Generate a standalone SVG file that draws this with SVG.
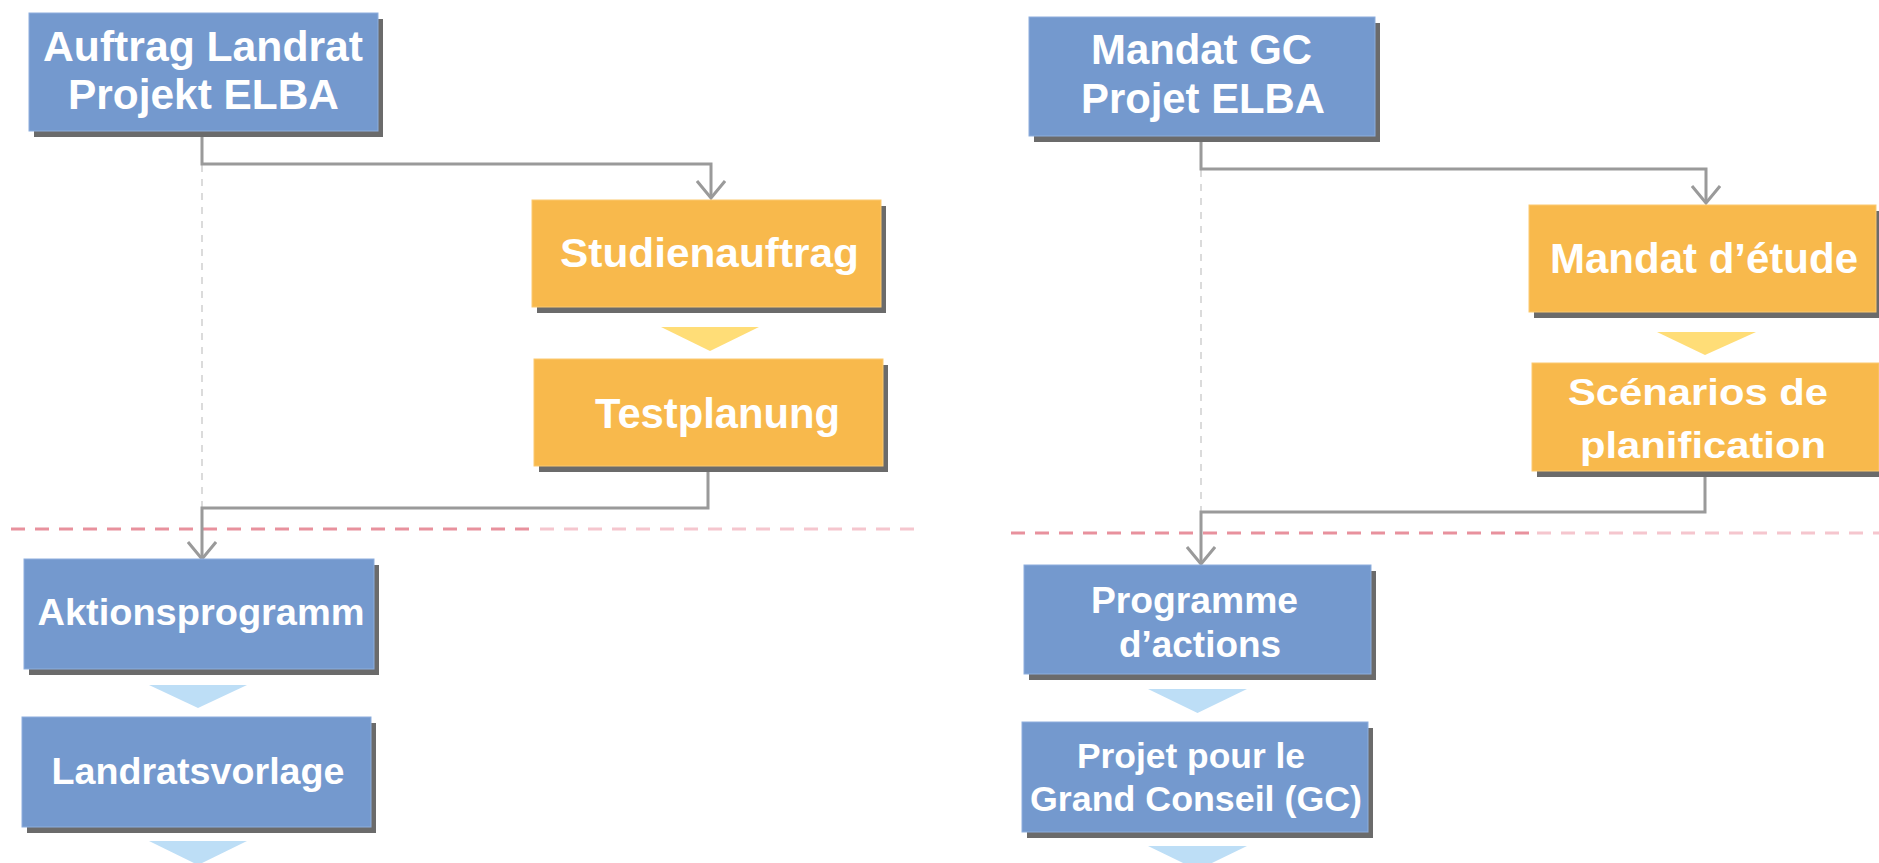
<svg xmlns="http://www.w3.org/2000/svg" width="1879" height="863" viewBox="0 0 1879 863">
<defs>
<style>
.blue{fill:#7499CE;stroke:#8DAEDD;stroke-width:1}
.orange{fill:#F8B94C;stroke:#FBC970;stroke-width:1}
.shadow{fill:#6B6B6B}
.t{font-family:"Liberation Sans",Arial,sans-serif;font-weight:bold;fill:#FFFFFF;text-anchor:middle}
.conn{fill:none;stroke:#9A9A9A;stroke-width:3}
.guide{fill:none;stroke:#CFCFCF;stroke-width:1.5;stroke-dasharray:7 7}
.reddark{fill:none;stroke:#E8919D;stroke-width:3;stroke-dasharray:14 10}
.redlight{fill:none;stroke:#F5C6CE;stroke-width:3;stroke-dasharray:14 10}
.tri-y{fill:#FFDD77}
.tri-b{fill:#BDDEF6}
</style>
<marker id="arr" viewBox="0 0 30 20" refX="15" refY="18" markerWidth="30" markerHeight="20" markerUnits="userSpaceOnUse" orient="0">
<path d="M1,1 L15,18 L29,1" fill="none" stroke="#9A9A9A" stroke-width="3"/>
</marker>
</defs>
<rect width="1879" height="863" fill="#FFFFFF"/>

<g id="guides">
<line class="guide" x1="202" y1="165" x2="202" y2="507"/>
<line class="guide" x1="1201" y1="170" x2="1201" y2="511"/>
<line class="reddark" x1="11" y1="529" x2="536" y2="529"/>
<line class="redlight" x1="540" y1="529" x2="919" y2="529"/>
<line class="reddark" x1="1011" y1="533" x2="1533" y2="533"/>
<line class="redlight" x1="1537" y1="533" x2="1879" y2="533"/>
</g>

<g id="connectors">
<path class="conn" d="M202,131 V164 H711 V198" marker-end="url(#arr)"/>
<path class="conn" d="M708,466 V508 H202 V559" marker-end="url(#arr)"/>
<path class="conn" d="M1201,136 V169 H1706 V203" marker-end="url(#arr)"/>
<path class="conn" d="M1705,477 V512 H1201 V564" marker-end="url(#arr)"/>
<polygon class="tri-y" points="661,327 759,327 710,351"/>
<polygon class="tri-y" points="1657,332 1756,332 1705,355"/>
<polygon class="tri-b" points="149,685 247,685 198,708"/>
<polygon class="tri-b" points="149,841 247,841 198,865"/>
<polygon class="tri-b" points="1148,689 1247,689 1197.5,713"/>
<polygon class="tri-b" points="1148,846 1247,846 1197.5,870"/>
</g>

<g id="auftrag">
<rect class="shadow" x="34" y="19" width="349" height="118"/>
<rect class="blue" x="29" y="13" width="349" height="118"/>
<text class="t" x="203" y="61" font-size="42" textLength="320" lengthAdjust="spacingAndGlyphs">Auftrag Landrat</text>
<text class="t" x="203.5" y="109" font-size="42" textLength="271" lengthAdjust="spacingAndGlyphs">Projekt ELBA</text>
</g>

<g id="studienauftrag">
<rect class="shadow" x="537" y="206" width="349" height="107"/>
<rect class="orange" x="532" y="200" width="349" height="107"/>
<text class="t" x="709.5" y="267" font-size="41" textLength="299" lengthAdjust="spacingAndGlyphs">Studienauftrag</text>
</g>

<g id="testplanung">
<rect class="shadow" x="539" y="365" width="349" height="107"/>
<rect class="orange" x="534" y="359" width="349" height="107"/>
<text class="t" x="717.5" y="428" font-size="42" textLength="245" lengthAdjust="spacingAndGlyphs">Testplanung</text>
</g>

<g id="aktionsprogramm">
<rect class="shadow" x="29" y="565" width="350" height="110"/>
<rect class="blue" x="24" y="559" width="350" height="110"/>
<text class="t" x="201" y="625" font-size="37" textLength="327" lengthAdjust="spacingAndGlyphs">Aktionsprogramm</text>
</g>

<g id="landratsvorlage">
<rect class="shadow" x="27" y="723" width="349" height="110"/>
<rect class="blue" x="22" y="717" width="349" height="110"/>
<text class="t" x="198" y="784" font-size="36" textLength="293" lengthAdjust="spacingAndGlyphs">Landratsvorlage</text>
</g>

<g id="mandat-gc">
<rect class="shadow" x="1034" y="23" width="346" height="119"/>
<rect class="blue" x="1029" y="17" width="346" height="119"/>
<text class="t" x="1201.5" y="64" font-size="42" textLength="221" lengthAdjust="spacingAndGlyphs">Mandat GC</text>
<text class="t" x="1203" y="113" font-size="42" textLength="244" lengthAdjust="spacingAndGlyphs">Projet ELBA</text>
</g>

<g id="mandat-etude">
<rect class="shadow" x="1534" y="211" width="347" height="107"/>
<rect class="orange" x="1529" y="205" width="347" height="107"/>
<text class="t" x="1704" y="273" font-size="42" textLength="308" lengthAdjust="spacingAndGlyphs">Mandat d’étude</text>
</g>

<g id="scenarios">
<rect class="shadow" x="1537" y="369" width="347" height="108"/>
<rect class="orange" x="1532" y="363" width="347" height="108"/>
<text class="t" x="1698" y="405" font-size="37" textLength="260" lengthAdjust="spacingAndGlyphs">Scénarios de</text>
<text class="t" x="1703" y="458" font-size="37" textLength="246" lengthAdjust="spacingAndGlyphs">planification</text>
</g>

<g id="programme">
<rect class="shadow" x="1029" y="571" width="347" height="109"/>
<rect class="blue" x="1024" y="565" width="347" height="109"/>
<text class="t" x="1194.5" y="613" font-size="37" textLength="207" lengthAdjust="spacingAndGlyphs">Programme</text>
<text class="t" x="1200" y="657" font-size="37" textLength="162" lengthAdjust="spacingAndGlyphs">d’actions</text>
</g>

<g id="projet-gc">
<rect class="shadow" x="1027" y="728" width="346" height="110"/>
<rect class="blue" x="1022" y="722" width="346" height="110"/>
<text class="t" x="1191" y="768" font-size="35" textLength="228" lengthAdjust="spacingAndGlyphs">Projet pour le</text>
<text class="t" x="1196" y="811" font-size="35" textLength="332" lengthAdjust="spacingAndGlyphs">Grand Conseil (GC)</text>
</g>
</svg>
